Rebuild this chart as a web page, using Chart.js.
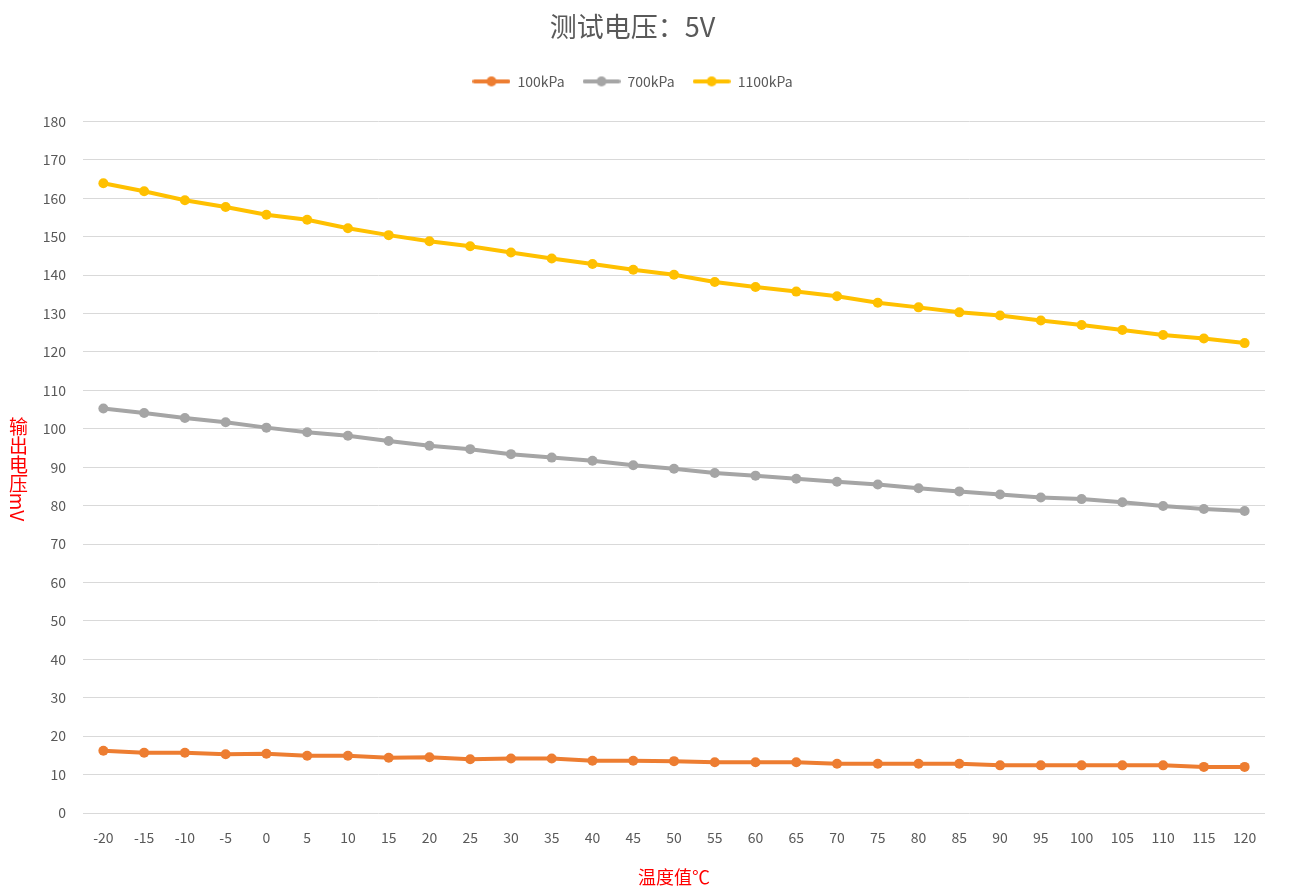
<!DOCTYPE html>
<html>
<head>
<meta charset="utf-8">
<script src="https://cdn.jsdelivr.net/npm/chart.js"></script>
<style>
html, body { margin: 0; padding: 0; background: #fff; overflow: hidden; }
#wrap { position: relative; width: 1290px; height: 892px; }
#myChart { display: block; }
#yTitle {
	position: absolute; left: 8px; top: 469px; transform: translateY(-50%);
	writing-mode: vertical-rl; color: #ff0000;
	font-family: "Noto Sans CJK SC"; font-size: 19px; line-height: 20px;
}
</style>
</head>
<body>
<div id="wrap">
	<canvas id="myChart" width="1290" height="892"></canvas>
	<div id="yTitle">输出电压mV</div>
</div>
<script>
// 温度 (℃)
var temps = [-20, -15, -10, -5, 0, 5, 10, 15, 20, 25, 30, 35, 40, 45, 50,
	55, 60, 65, 70, 75, 80, 85, 90, 95, 100, 105, 110, 115, 120];

// 输出电压 mV
var p100 = [16.2, 15.7, 15.7, 15.3, 15.4, 14.9, 14.9, 14.4, 14.5, 14.0, 14.2, 14.2, 13.6, 13.6, 13.5,
	13.2, 13.2, 13.2, 12.8, 12.8, 12.8, 12.8, 12.4, 12.4, 12.4, 12.4, 12.4, 12.0, 12.0];
var p700 = [105.3, 104.1, 102.8, 101.7, 100.3, 99.1, 98.2, 96.8, 95.6, 94.7, 93.4, 92.5, 91.7, 90.5, 89.6,
	88.5, 87.8, 87.0, 86.2, 85.5, 84.5, 83.7, 82.9, 82.1, 81.7, 80.9, 79.9, 79.1, 78.6];
var p1100 = [163.9, 161.8, 159.5, 157.7, 155.7, 154.4, 152.2, 150.4, 148.8, 147.5, 145.9, 144.3, 142.9, 141.4, 140.1,
	138.2, 136.9, 135.7, 134.5, 132.8, 131.6, 130.3, 129.5, 128.2, 127.0, 125.7, 124.4, 123.5, 122.3];

var seriesNames = ['100kPa', '700kPa', '1100kPa'];
var seriesColors = ['#ED7D31', '#A5A5A5', '#FFC000'];

var yMin = 0, yMax = 180, yStep = 10;

var fontName = '"Noto Sans CJK SC", "Noto Sans", sans-serif';
var textGray = '#595959';

// excel style legend marker: line with a dot
function legendMarker(color) {
	var c = document.createElement('canvas');
	c.width = 38; c.height = 12;
	var g = c.getContext('2d');
	g.strokeStyle = color;
	g.lineWidth = 4;
	g.lineCap = 'round';
	g.beginPath(); g.moveTo(2, 6); g.lineTo(36, 6); g.stroke();
	g.fillStyle = color;
	g.beginPath(); g.arc(19, 6, 5, 0, Math.PI * 2); g.fill();
	return c;
}

function makeSet(i, values) {
	return {
		label: seriesNames[i],
		data: values,
		borderColor: seriesColors[i],
		backgroundColor: seriesColors[i],
		borderWidth: 4,
		pointRadius: 5,
		pointHoverRadius: 5,
		pointBorderWidth: 0,
		pointStyle: 'circle',
		tension: 0,
		fill: false
	};
}

var legendGap = {
	id: 'legendGap',
	beforeInit: function(chart) {
		var fit = chart.legend.fit;
		chart.legend.fit = function() {
			fit.bind(chart.legend)();
			this.height += 23;
		};
	}
};

var ctx = document.getElementById('myChart');
var myChart = new Chart(ctx, {
	type: 'line',
	data: {
		labels: temps.map(String),
		datasets: [makeSet(0, p100), makeSet(1, p700), makeSet(2, p1100)]
	},
	options: {
		responsive: false,
		animation: false,
		layout: { padding: { left: 0, right: 25, top: 0, bottom: 0 } },
		plugins: {
			title: {
				display: true,
				text: '测试电压：5V',
				color: textGray,
				font: { family: fontName, size: 27, weight: 'normal' },
				padding: { top: 11, bottom: 13 }
			},
			legend: {
				display: true,
				labels: {
					color: textGray,
					font: { family: fontName, size: 14 },
					usePointStyle: true,
					pointStyleWidth: 38,
					padding: 18,
					generateLabels: function(chart) {
						return chart.data.datasets.map(function(ds, i) {
							return {
								text: ds.label,
								fontColor: textGray,
								pointStyle: legendMarker(seriesColors[i]),
								datasetIndex: i,
								hidden: false,
								lineWidth: 0
							};
						});
					}
				}
			},
			tooltip: { enabled: false }
		},
		scales: {
			x: {
				type: 'category',
				offset: true,
				grid: { display: false },
				border: { display: false },
				ticks: {
					color: textGray,
					font: { family: fontName, size: 14 },
					padding: 8,
					maxRotation: 0,
					autoSkip: false
				},
				title: {
					display: true,
					text: '温度值℃',
					color: '#ff0000',
					font: { family: fontName, size: 18 },
					padding: { top: 0, bottom: 4 }
				},
				afterFit: function(scale) { scale.height = 79; }
			},
			y: {
				min: yMin,
				max: yMax,
				grid: { color: '#D9D9D9', lineWidth: 1, drawTicks: false },
				border: { display: false },
				ticks: {
					stepSize: yStep,
					color: textGray,
					font: { family: fontName, size: 14 },
					padding: 17
				},
				afterFit: function(scale) { scale.width = 83; }
			}
		}
	},
	plugins: [legendGap]
});
</script>
</body>
</html>
